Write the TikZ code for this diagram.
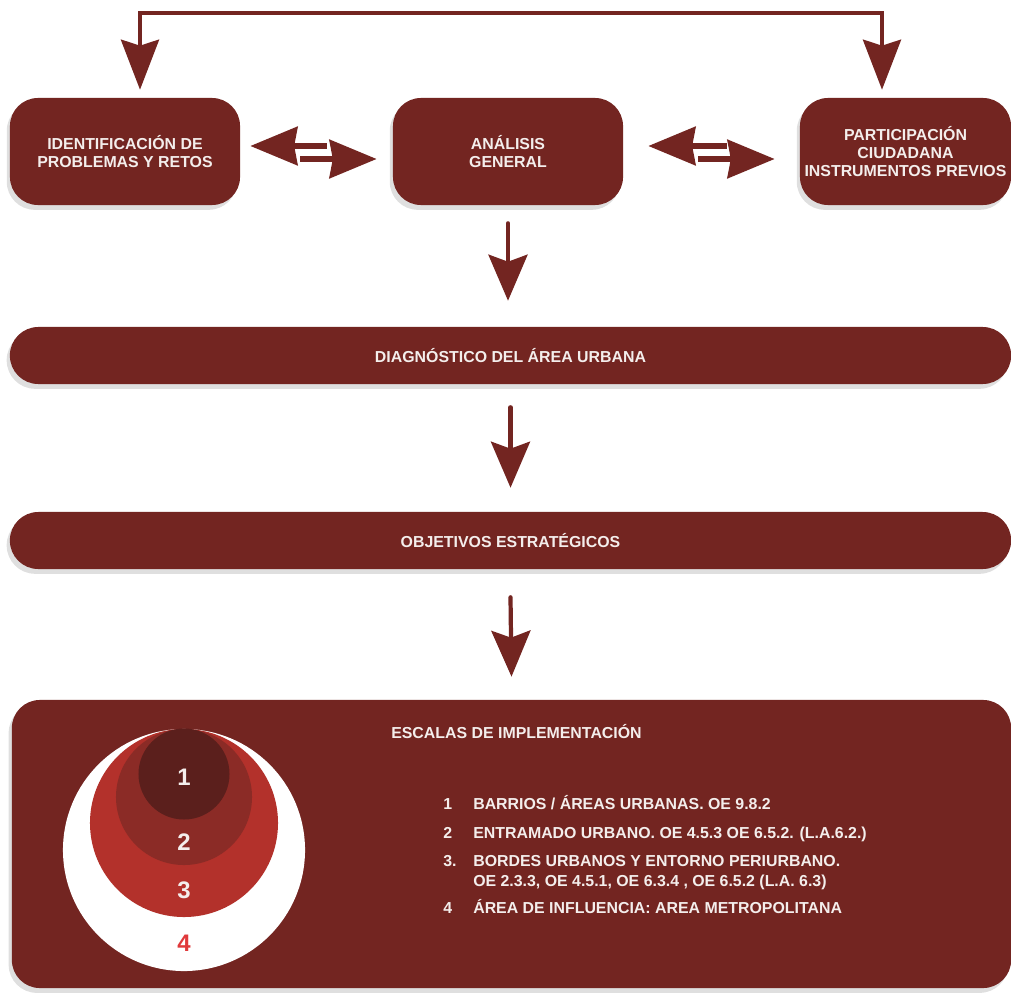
\documentclass[tikz,border=0pt]{standalone}
\usepackage{fontspec}
\setmainfont{Liberation Sans}
\definecolor{maroon}{HTML}{732521}
\definecolor{ring1}{HTML}{5B1F1C}
\definecolor{ring2}{HTML}{8B2B26}
\definecolor{ring3}{HTML}{B3312B}
\definecolor{ringtext}{HTML}{E0393B}
\definecolor{paper}{HTML}{F4EEEC}
\usepackage{tikz}
\usetikzlibrary{arrows.meta,positioning,calc,shadows}

\begin{document}
\begin{tikzpicture}[x=0.025cm,y=-0.025cm,every node/.style={font=\bfseries\fontsize{11.3}{12.8}\selectfont,text=paper}]
\tikzstyle{box}=[rounded corners=0.7cm,fill=maroon,align=center,inner sep=0pt,minimum width=5.75cm,minimum height=2.675cm,drop shadow={shadow xshift=-0.8mm,shadow yshift=-1.2mm,opacity=0.25}]
\tikzstyle{bar}=[box,minimum width=25.025cm,minimum height=1.425cm,rounded corners=0.71cm]
\tikzstyle{flow}=[draw=maroon,line width=3pt,line cap=round,-{Stealth[length=1.15cm,width=0.975cm,inset=0.175cm]}]
\tikzstyle{loop}=[draw=maroon,line width=2.8pt,{Stealth[length=1.25cm,width=0.95cm,inset=0.15cm]}-{Stealth[length=1.25cm,width=0.95cm,inset=0.15cm]}]
\tikzstyle{swap}=[draw=maroon,line width=4.5pt,-{Stealth[length=1.175cm,width=0.95cm,inset=0.08cm]}]
\tikzstyle{ring}=[circle,inner sep=0pt]
\tikzstyle{num}=[font=\bfseries\fontsize{17}{17}\selectfont]
\tikzstyle{item}=[anchor=base west,inner sep=0pt]
\useasboundingbox (0,0) rectangle (1011,992);
% top row
\node[box] (ident) at (125,151.5) {IDENTIFICACIÓN DE\\PROBLEMAS Y RETOS};
\node[box] (analisis) at (508,151.5) {ANÁLISIS\\GENERAL};
\node[box,minimum width=5.275cm] (partic) at (905.5,151.5) {PARTICIPACIÓN\\CIUDADANA\\INSTRUMENTOS PREVIOS};
\coordinate (bendl) at (140,13);
\coordinate (bendr) at (882,13);
\draw[loop] ($(ident.north)+(15,-8)$) -- (bendl) -- (bendr) -- ($(partic.north)+(-23.5,-8)$);
\draw[swap] ($(analisis.west)+(-66,-5.5)$) -- ($(ident.east)+(10,-5.5)$);
\draw[swap] ($(ident.east)+(60,7.5)$) -- ($(analisis.west)+(-16,7.5)$);
\draw[swap] ($(partic.west)+(-73,-5.5)$) -- ($(analisis.east)+(25,-5.5)$);
\draw[swap] ($(analisis.east)+(75,7.5)$) -- ($(partic.west)+(-25,7.5)$);
% bars
\node[bar] (diag) at (510.5,355.5) {DIAGNÓSTICO DEL ÁREA URBANA};
\node[bar] (obj) at (510.5,540.5) {OBJETIVOS ESTRATÉGICOS};
\node[box,minimum width=24.975cm,minimum height=7.2cm] (escalas) at (511.5,844) {};
\draw[flow] ($(analisis.south)+(0,18)$) -- ($(analisis.south |- diag.north)+(0,-26)$);
\draw[flow] ($(diag.south)+(0,23)$) -- ($(obj.north)+(0,-24)$);
\draw[flow] ($(obj.south)+(0,28)$) -- ($(escalas.north)+(0,-23)$);
% scales
\node[ring,fill=white,minimum size=6.05cm] (scale4) at (184,850) {};
\node[ring,fill=ring3,minimum size=4.7cm] (scale3) at (184,823) {};
\node[ring,fill=ring2,minimum size=3.4cm] (scale2) at (184,797) {};
\node[ring,fill=ring1,minimum size=2.275cm] (scale1) at (184,774) {};
\node[num] (n1) at (184,777) {1};
\node[num] (n2) at (184,842) {2};
\node[num] (n3) at (184,890) {3};
\node[num,text=ringtext] (n4) at (184,943) {4};
\node[item] (titulo) at (391,738) {ESCALAS DE IMPLEMENTACIÓN};
\node[item] (k1) at (443,809) {1};
\node[item] (t1) at (473,809) {BARRIOS / ÁREAS URBANAS. OE 9.8.2};
\node[item] (k2) at (443,838) {2};
\node[item] (t2) at (473,838) {ENTRAMADO URBANO. OE 4.5.3 OE 6.5.2. (L.A.6.2.)};
\node[item] (k3) at (443,866) {3.};
\node[item] (t3) at (473,866) {BORDES URBANOS Y ENTORNO PERIURBANO.};
\node[item] (t3b) at (473,886) {OE 2.3.3, OE 4.5.1, OE 6.3.4 , OE 6.5.2 (L.A. 6.3)};
\node[item] (k4) at (443,913) {4};
\node[item] (t4) at (473,913) {ÁREA DE INFLUENCIA: AREA METROPOLITANA};
\end{tikzpicture}
\end{document}
